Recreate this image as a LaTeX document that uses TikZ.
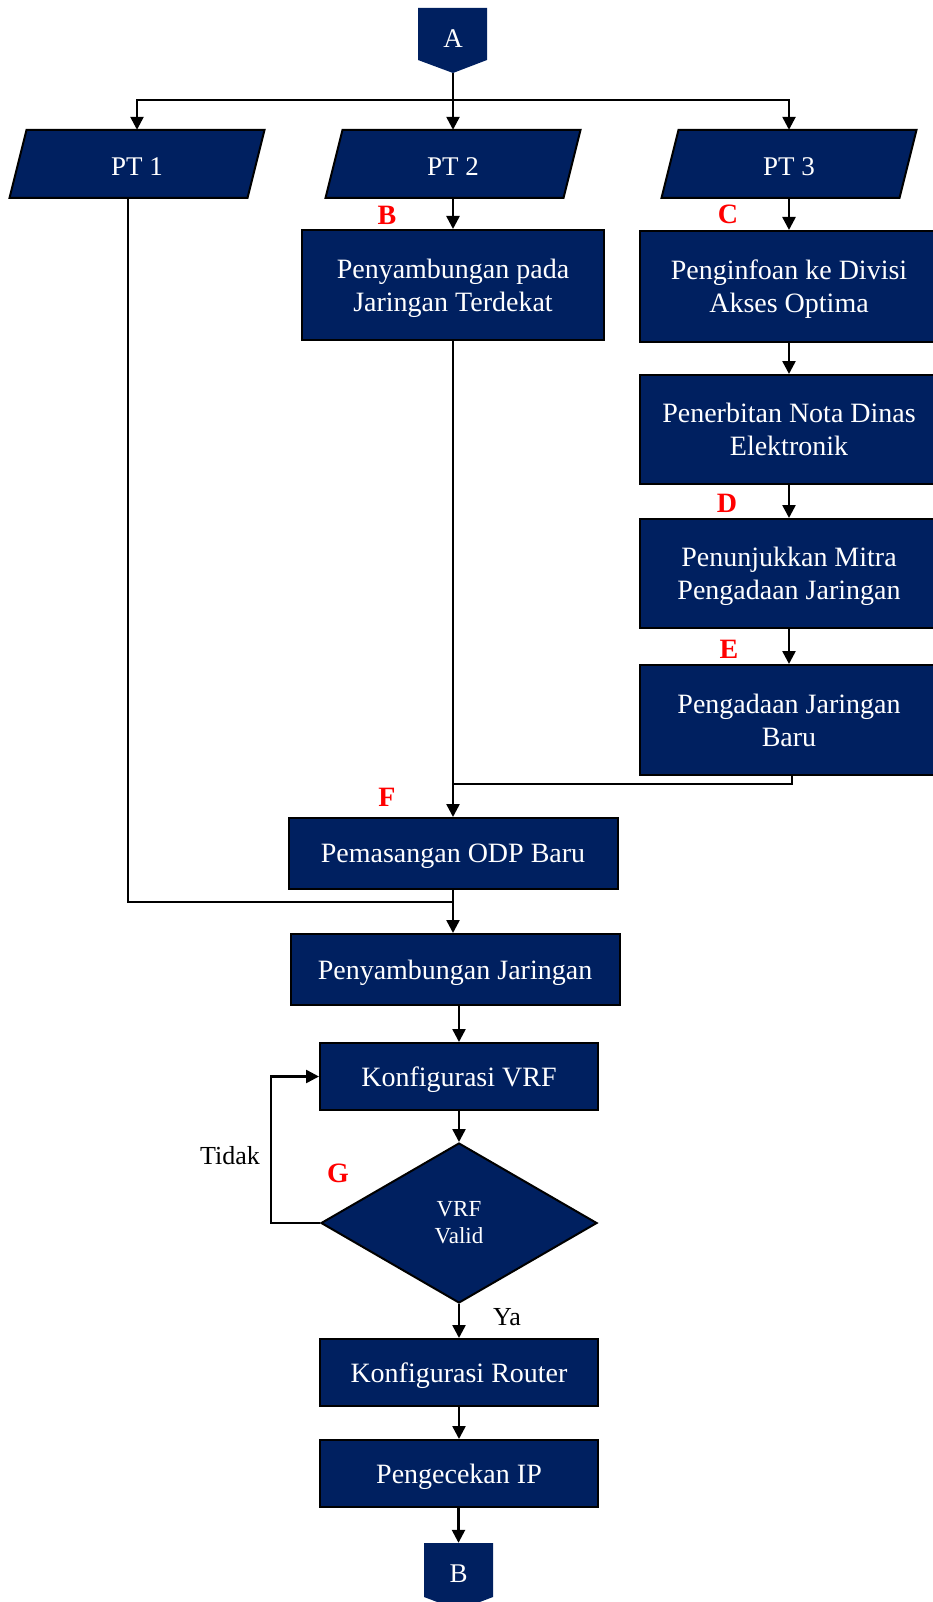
\documentclass[tikz,border=0pt]{standalone}
\usepackage{fontspec}
\setmainfont{Liberation Serif}
\usetikzlibrary{arrows.meta,shapes.geometric}
\definecolor{navy}{RGB}{0,32,96}

% parallelogram input box: name, centre x, text
\newcommand\iobox[3]{%
  \filldraw[fill=navy, draw=black, line width=2pt]
    (#2-110.5,130) -- (#2+127.5,130) -- (#2+110.5,198) -- (#2-127.5,198) -- cycle;
  \node[io] (#1) at (#2,164) {\raisebox{-3pt}[\height][0pt]{#3}};}

\begin{document}
\begin{tikzpicture}[x=1pt,y=-1pt,
  proc/.style={rectangle, draw=black, line width=2pt, fill=navy, text=white,
    font=\fontsize{28}{33}\selectfont, align=center, inner sep=0pt,
    text depth=-2.5pt},
  io/.style={rectangle, inner sep=0pt, minimum width=222, minimum height=68,
    text=white, font=\fontsize{27}{32}\selectfont},
  offpg/.style={rectangle, inner sep=0pt, minimum width=69, text=white,
    font=\fontsize{27}{32}\selectfont},
  decide/.style={diamond, draw=black, line width=2pt, fill=navy, text=white,
    align=center, font=\fontsize{23}{27}\selectfont,
    minimum width=276, minimum height=160, inner sep=0pt},
  flow/.style={line width=2.5pt, -{Triangle[length=13pt,width=13pt]}},
  trunk/.style={line width=2.5pt},
  feed/.style={line width=1.2pt},
  tag/.style={text=red, font=\bfseries\fontsize{28}{33}\selectfont},
  note/.style={font=\fontsize{26}{30}\selectfont}
]
\useasboundingbox (0,0) rectangle (933,1602);

% off-page connector A
\fill[navy] (418,8) -- (487,8) -- (487,60) -- (453,73) -- (418,60) -- cycle;
\node[offpg, minimum height=65] (A) at (453,40.5) {\raisebox{4.5pt}{A}};

% three parallel branches
\iobox{pt1}{137}{PT 1}
\iobox{pt2}{453}{PT 2}
\iobox{pt3}{789}{PT 3}

% PT 2 branch
\node[proc, minimum width=302, minimum height=110] (b1) at (453,285)
  {Penyambungan pada\\Jaringan Terdekat};

% PT 3 branch
\node[proc, minimum width=298, minimum height=111] (c1) at (789,286.5)
  {Penginfoan ke Divisi\\Akses Optima};
\node[proc, minimum width=298, minimum height=109] (c2) at (789,429.5)
  {Penerbitan Nota Dinas\\Elektronik};
\node[proc, minimum width=298, minimum height=109] (c3) at (789,573.5)
  {Penunjukkan Mitra\\Pengadaan Jaringan};
\node[proc, minimum width=298, minimum height=110] (c4) at (789,720)
  {Pengadaan Jaringan\\Baru};

% common path
\node[proc, minimum width=329, minimum height=71] (f) at (453,853.5)
  {Pemasangan ODP Baru};
\node[proc, minimum width=329, minimum height=71] (g) at (455,969.5)
  {Penyambungan Jaringan};
\node[proc, minimum width=278, minimum height=67] (h) at (459,1076.5)
  {Konfigurasi VRF};
\node[decide] (dec) at (459,1223) {VRF\\Valid};
\node[proc, minimum width=278, minimum height=67] (i) at (459,1372.5)
  {Konfigurasi Router};
\node[proc, minimum width=278, minimum height=67] (j) at (459,1473.5)
  {Pengecekan IP};

% off-page connector B
\fill[navy] (424,1543) -- (493,1543) -- (493,1597) -- (458.5,1610) -- (424,1597) -- cycle;
\node[offpg, minimum height=67] (B) at (458.5,1576.5) {\raisebox{5.5pt}{B}};

% connectors
\coordinate (split) at (453,100);
\draw[trunk] (A.south) -- (split);
\draw[flow] (split) -| (pt1.north);
\draw[flow] (split) -| (pt3.north);
\draw[flow] (split) -- (pt2.north);
\draw[flow] (pt2.south) -- (b1.north);
\draw[flow] (pt3.south) -- (c1.north);
\draw[flow] (c1.south) -- (c2.north);
\draw[flow] (c2.south) -- (c3.north);
\draw[flow] (c3.south) -- (c4.north);

\coordinate (join1) at (453,784);
\draw[feed] ([xshift=3pt]c4.south) |- (join1);
\draw[flow] (b1.south) -- (f.north);

\coordinate (join2) at (453,902);
\draw[feed] ([xshift=-9pt]pt1.south) |- (join2);
\draw[flow] (f.south) -- (f.south |- g.north);
\draw[flow] (h.north |- g.south) -- (h.north);
\draw[flow] (h.south) -- (dec.north);
\draw[flow] (dec.west) -- ++(-49,0) |- (h.west);
\draw[flow] (dec.south) -- (i.north);
\draw[flow] (i.south) -- (j.north);
\draw[flow] (B.north |- j.south) -- (B.north);

% labels
\node[tag] (tB) at (387,215) {B};
\node[tag] (tC) at (728,214) {C};
\node[tag] (tD) at (727,503) {D};
\node[tag] (tE) at (729,649) {E};
\node[tag] (tF) at (387,797) {F};
\node[tag] (tG) at (338,1173) {G};
\node[note] (no) at (230,1156) {Tidak};
\node[note] (yes) at (507,1317) {Ya};
\end{tikzpicture}
\end{document}
